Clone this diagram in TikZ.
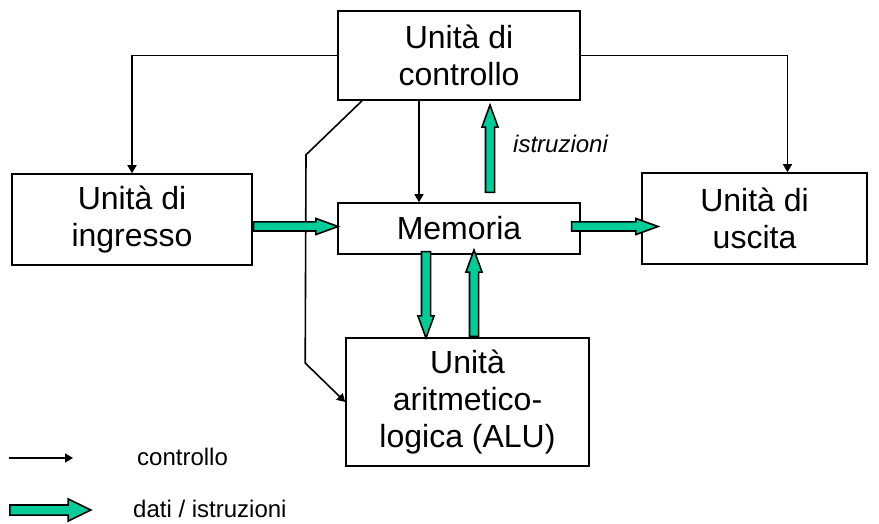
\documentclass[tikz,border=0pt]{standalone}
\usepackage{fontspec}
\setmainfont{Liberation Sans}
\usetikzlibrary{arrows.meta,calc,positioning,shapes.arrows}
\definecolor{datagreen}{RGB}{0,204,153}
\tikzset{unit/.style={draw,fill=white,line width=1.6pt,inner sep=0pt,align=center,font=\fontsize{32}{37}\selectfont},
  ctrl/.style={line width=1.6pt,-{Triangle[length=8pt,width=9pt]}},
  flow/.style={shape=single arrow,draw,fill=datagreen,line width=1.6pt,inner xsep=0pt,inner ysep=3.75pt,
    minimum width=0pt,single arrow head extend=3.5pt,single arrow tip angle=40,anchor=tail},
  legendflow/.style={inner ysep=4.25pt,single arrow head extend=6pt,single arrow tip angle=52},
  note/.style={inner sep=0pt,font=\fontsize{24}{29}\selectfont}}
\newcommand{\dataflow}[3][]{\path let \p1=(#2),\p2=(#3),\n1={veclen(\x2-\x1,\y2-\y1)},\n2={atan2(\y2-\y1,\x2-\x1)}
  in node[flow,#1,minimum height=\n1,rotate=\n2] at (\p1) {};}

\begin{document}
\begin{tikzpicture}[x=1pt,y=-1pt]
\useasboundingbox (0,0) rectangle (879,524);
% units
\node[unit,minimum width=242,minimum height=89] (ctl) at (459,55.5) {Unità di\\controllo};
\node[unit,minimum width=240,minimum height=91] (ing) at (132,219.5) {Unità di\\ingresso};
\node[unit,minimum width=242,minimum height=51] (mem) at (459,228.5) {Memoria};
\node[unit,minimum width=225,minimum height=91] (usc) at (754.5,218.5) {Unità di\\uscita};
\node[unit,minimum width=243,minimum height=128] (alu) at (467.5,402) {Unità\\aritmetico-\\logica (ALU)};
% control signals
\draw[ctrl] (ctl.west) -| (ing.north);
\draw[ctrl] (ctl.east) -| ([xshift=33pt]usc.north);
\draw[ctrl] ([xshift=-40pt]ctl.south) -- ([xshift=-40pt]ctl.south |- mem.north);
\draw[ctrl] ([xshift=-97pt]ctl.south) -- ++(-56,54) -- ($(alu.west)+(-40,-39)$) -- (alu.west);
% data / instructions
\dataflow{$(ing.east |- mem.west)+(0,-2)$}{$(mem.west)+(0,-2)$}
\dataflow{$(mem.east)+(-10,-2)$}{$(usc.west |- mem.east)+(16,-2)$}
\dataflow{$(mem.north)+(31,-9)$}{$(ctl.south)+(31,5)$}
\dataflow{$(mem.south)+(-33,-4)$}{$(alu.north)+(-41.5,0)$}
\dataflow{$(alu.north)+(6.5,0)$}{$(mem.south)+(15,-4)$}
\node[note,font=\fontsize{24}{29}\selectfont\itshape,anchor=base west] (istr) at (513,153) {istruzioni};
% legend
\coordinate (lgc1) at (9,458);
\coordinate (lgc2) at (73,458);
\draw[ctrl] (lgc1) -- (lgc2);
\node[note,anchor=west] (lgctrl) at (137,457) {controllo};
\coordinate (lgd1) at (9,510);
\coordinate (lgd2) at (90,510);
\dataflow[legendflow]{lgd1}{lgd2}
\node[note,anchor=west] (lgdata) at (133,509) {dati / istruzioni};
\end{tikzpicture}
\end{document}
